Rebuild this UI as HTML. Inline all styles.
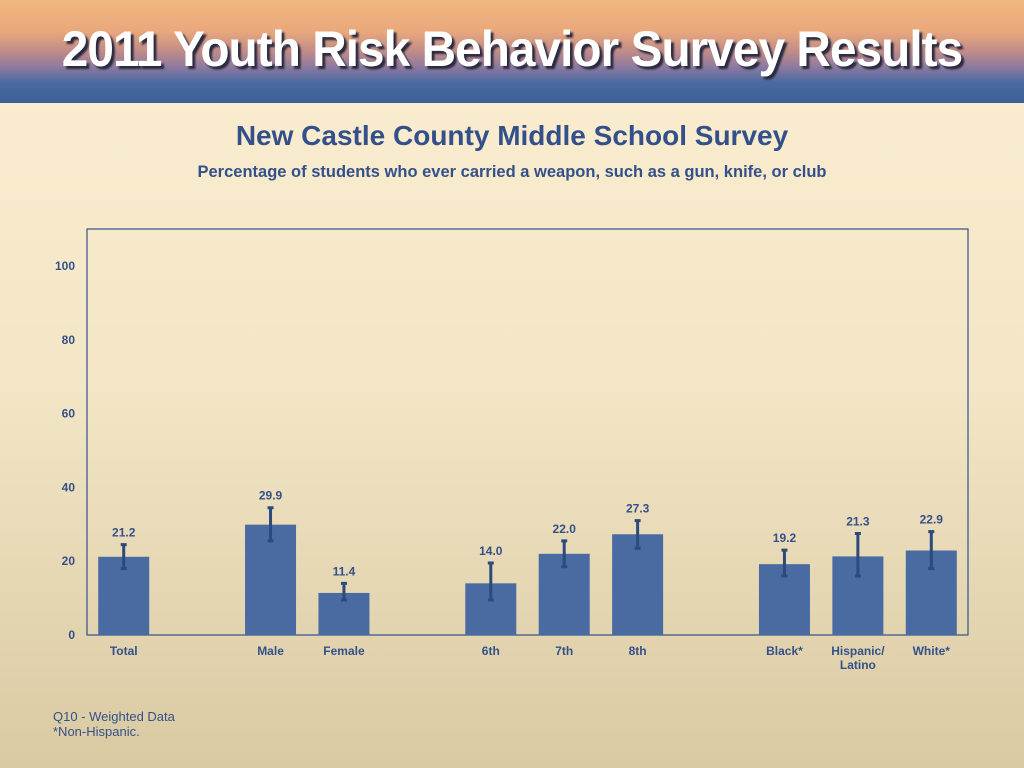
<!DOCTYPE html>
<html><head><meta charset="utf-8"><style>
html,body{margin:0;padding:0}
body{width:1024px;height:768px;overflow:hidden;position:relative;font-family:"Liberation Sans",sans-serif;background:linear-gradient(#fcefd2 0%,#f3e6c6 50%,#d9caa3 100%)}
#banner{position:absolute;left:0;top:0;width:1024px;height:103px;background:linear-gradient(#f0b880 0%,#eaa87c 30%,#c08c88 50%,#8e7aa0 65%,#4a6aa0 80%,#3d5f98 100%)}
#banner-title{position:absolute;left:0;top:20px;width:1024px;text-align:center;color:#fff;font-size:50px;font-weight:bold;letter-spacing:-1px;text-shadow:3px 3px 2px #2a2a40;transform:scaleX(0.955);transform-origin:512px 0}
.t{position:absolute;left:0;width:1024px;text-align:center;color:#34508a;font-weight:bold}
.foot{position:absolute;left:53px;font-size:13px;color:#34508a}
</style></head><body>
<div id="banner"><div id="banner-title">2011 Youth Risk Behavior Survey Results</div></div>
<div class="t" style="top:120px;font-size:28px">New Castle County Middle School Survey</div>
<div class="t" style="top:163px;font-size:16.5px">Percentage of students who ever carried a weapon, such as a gun, knife, or club</div>
<svg id="chart" width="1024" height="768" style="position:absolute;left:0;top:0"></svg>
<div class="foot" style="top:709px">Q10 - Weighted Data</div>
<div class="foot" style="top:724px">*Non-Hispanic.</div>
<script>
const categories=["Total","Male","Female","6th","7th","8th","Black*","Hispanic/\nLatino","White*"];
const slots=[0,2,3,5,6,7,9,10,11];
const values=[21.2,29.9,11.4,14.0,22.0,27.3,19.2,21.3,22.9];
const lower=[18,25.5,9.5,9.5,18.5,23.5,16,16,18];
const upper=[24.5,34.5,14,19.5,25.5,31,23,27.5,28];
const ticks=[0,20,40,60,80,100];
const svg=document.getElementById('chart');
const NS='http://www.w3.org/2000/svg';
const X0=87,X1=968,Y0=635,nSlots=12,slotW=(X1-X0)/nSlots;
const y=v=>Y0-v*3.69;
const xc=s=>X0+slotW*(s+0.5);
function mk(t,a){const e=document.createElementNS(NS,t);for(const k in a)e.setAttribute(k,a[k]);svg.appendChild(e);return e;}
const frame=mk('rect',{x:X0,y:229,width:X1-X0,height:Y0-229,fill:'none',stroke:'#34508a','stroke-width':1.2});


ticks.forEach(t=>{const e=mk('text',{x:75,y:y(t)+4,'text-anchor':'end','font-size':12,'font-weight':'bold',fill:'#34508a'});e.textContent=t;

});
values.forEach((v,i)=>{const cx=xc(slots[i]);
const b=mk('rect',{x:cx-25.5,y:y(v),width:51,height:Y0-y(v),fill:'#4a6aa2'});


const eb=mk('path',{d:`M${cx},${y(upper[i])}V${y(lower[i])}M${cx-3},${y(upper[i])}H${cx+3}M${cx-3},${y(lower[i])}H${cx+3}`,stroke:'#2c4a7c','stroke-width':3,fill:'none'});


const lb=mk('text',{x:cx,y:y(upper[i])-8,'text-anchor':'middle','font-size':12,'font-weight':'bold',fill:'#34508a'});lb.textContent=v.toFixed(1);


categories[i].split('\n').forEach((ln,j)=>{const c=mk('text',{x:cx,y:655+j*14,'text-anchor':'middle','font-size':12,'font-weight':'bold',fill:'#34508a'});c.textContent=ln;

});
});
</script>
</body></html>
